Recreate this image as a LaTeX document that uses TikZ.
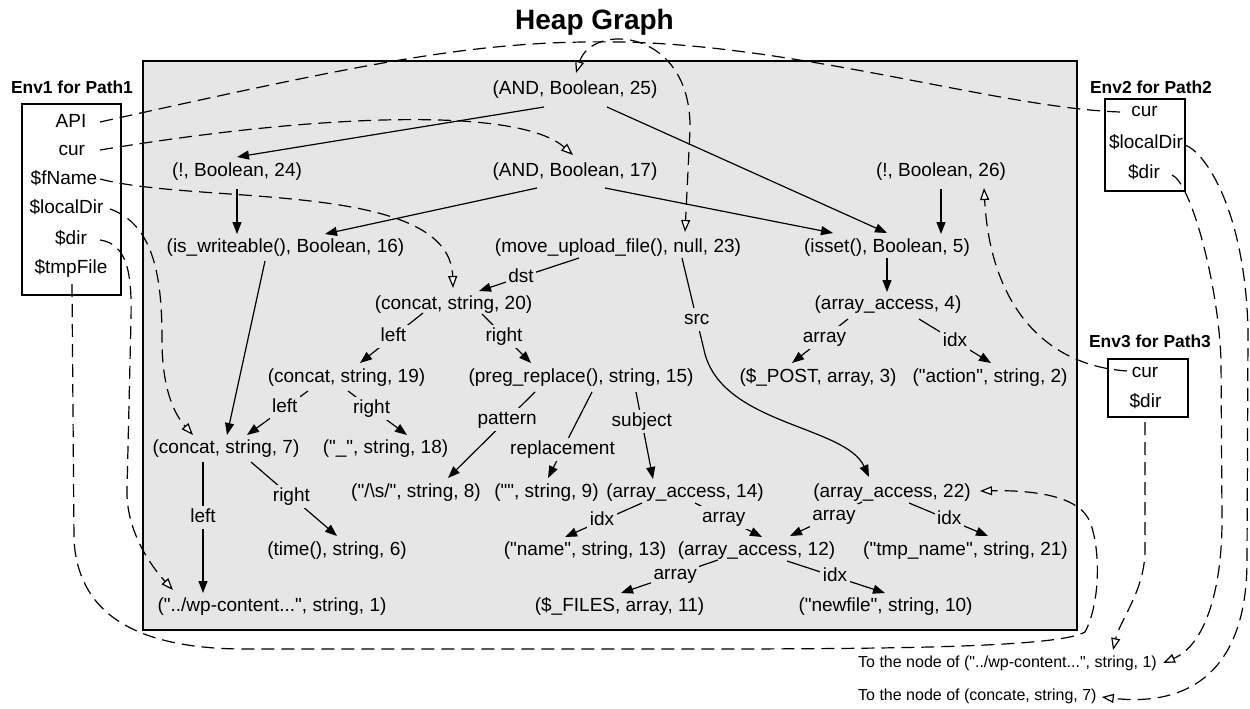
\documentclass[tikz,border=0pt]{standalone}
\usepackage{fontspec}
\setmainfont{Liberation Sans}[Ligatures=TeXOff]
\usetikzlibrary{arrows.meta,calc}
\definecolor{heapbg}{RGB}{230,230,230}
\tikzset{
  oarr/.tip={Triangle[length=12pt,width=9pt,fill=white]},
  farr/.tip={Triangle[length=12pt,width=9pt]},
  hn/.style={inner sep=0pt, text height=14pt, text depth=4pt, font=\fontsize{19}{22}\selectfont},
  lab/.style={hn, fill=heapbg, inner sep=2.5pt},
  envtitle/.style={inner sep=0pt, font=\fontsize{17.4}{20}\selectfont\bfseries},
  envbox/.style={draw, line width=1.2pt},
  heapbox/.style={draw, fill=heapbg, line width=1.5pt},
  bottomtext/.style={anchor=west, inner sep=0pt, text height=12pt, text depth=3.5pt, font=\fontsize{16}{19}\selectfont},
  edge/.style={line width=1.2pt, -farr},
  refl/.style={line width=1.2pt, dash pattern=on 13pt off 7pt},
  ref/.style={refl, -oarr}
}
\begin{document}
\begin{tikzpicture}[x=1pt,y=-1pt]
\useasboundingbox (0,0) rectangle (1250,709);

% title
\node[anchor=base, inner sep=0pt, font=\fontsize{28}{34}\selectfont\bfseries] (title) at (594.5,30) {Heap Graph};

% heap area
\draw[heapbox] (143,61) rectangle (1077,630);

% env boxes
\draw[envbox] (22,104) rectangle (121,295);
\draw[envbox] (1105,99) rectangle (1185,191);
\draw[envbox] (1108,359) rectangle (1188,417);
\node[envtitle] (env1t) at (72,87) {Env1 for Path1};
\node[envtitle] (env2t) at (1151,87.5) {Env2 for Path2};
\node[envtitle] (env3t) at (1150,341.7) {Env3 for Path3};

% env items
\node[hn] (e1api) at (71,122.7) {API};
\node[hn] (e1cur) at (71.7,150) {cur};
\node[hn] (e1fname) at (64,179) {\$fName};
\node[hn] (e1ldir) at (66.5,208.3) {\$localDir};
\node[hn] (e1dir) at (71,239) {\$dir};
\node[hn] (e1tmp) at (71,268.3) {\$tmpFile};
\node[hn] (e2cur) at (1144.5,111.7) {cur};
\node[hn] (e2ldir) at (1146,143.3) {\$localDir};
\node[hn] (e2dir) at (1144,173.3) {\$dir};
\node[hn] (e3cur) at (1145,372.3) {cur};
\node[hn] (e3dir) at (1145.5,402.3) {\$dir};

% bottom texts
\node[bottomtext] (t1) at (858,663) {To the node of ("../wp-content...", string, 1)};
\node[bottomtext] (t7) at (858,696) {To the node of (concate, string, 7)};

% heap nodes
\node[hn] (and25) at (575,90) {(AND, Boolean, 25)};
\node[hn] (and17) at (575,171) {(AND, Boolean, 17)};
\node[hn] (not24) at (237,171) {(!, Boolean, 24)};
\node[hn] (not26) at (941,171) {(!, Boolean, 26)};
\node[hn] (isw16) at (285.5,247) {(is\_writeable(), Boolean, 16)};
\node[hn] (mov23) at (618,247) {(move\_upload\_file(), null, 23)};
\node[hn] (isset5) at (887,247) {(isset(), Boolean, 5)};
\node[hn] (concat20) at (453.5,304) {(concat, string, 20)};
\node[hn] (aa4) at (888,304) {(array\_access, 4)};
\node[hn] (concat19) at (346.5,377) {(concat, string, 19)};
\node[hn] (preg15) at (581,377) {(preg\_replace(), string, 15)};
\node[hn] (post3) at (818,377) {(\$\_POST, array, 3)};
\node[hn] (action2) at (990,377) {("action", string, 2)};
\node[hn] (concat7) at (226,448) {(concat, string, 7)};
\node[hn] (us18) at (385.5,448) {("\_", string, 18)};
\node[hn] (s8) at (416,492) {("/\textbackslash s/", string, 8)};
\node[hn] (e9) at (546.5,492) {("", string, 9)};
\node[hn] (aa14) at (685,492) {(array\_access, 14)};
\node[hn] (aa22) at (892,492) {(array\_access, 22)};
\node[hn] (time6) at (337,550) {(time(), string, 6)};
\node[hn] (name13) at (585,550) {("name", string, 13)};
\node[hn] (aa12) at (756.5,550) {(array\_access, 12)};
\node[hn] (tmp21) at (965.5,550) {("tmp\_name", string, 21)};
\node[hn] (wp1) at (272,606) {("../wp-content...", string, 1)};
\node[hn] (files11) at (619.5,606) {(\$\_FILES, array, 11)};
\node[hn] (newfile10) at (885.5,606) {("newfile", string, 10)};

% solid edges
\draw[edge] ($(and25)+(-31,17)$) -- ($(not24)+(0,-14)$);
\draw[edge] ($(and25)+(32,17)$) -- ($(isset5)+(0,-14)$);
\draw[edge] ($(and17)+(-38,17)$) -- ($(isw16)+(39.5,-13)$);
\draw[edge] ($(and17)+(30,17)$) -- ($(isset5)+(-54,-14)$);
\draw[edge] ($(not24)+(0,18)$) -- ($(isw16)+(-48.5,-13)$);
\draw[edge] ($(not26)+(0,18)$) -- ($(isset5)+(54,-13)$);
\draw[edge] ($(isset5)+(0,11)$) -- ($(aa4)+(-1,-12)$);
\draw[edge] ($(isw16)+(-20.5,14)$) -- ($(concat7)+(1,-13)$);
\draw[edge] ($(mov23)+(-39,11)$) -- node[lab,pos=0.58]{dst} ($(concat20)+(25.5,-13)$);
\draw[edge] ($(mov23)+(64,11)$) -- node[lab,pos=0.67]{src} (704,350) .. controls (720,425) and (845,425) .. ($(aa22)+(-23,-15)$);
\draw[edge] ($(concat20)+(-30.5,9)$) -- node[lab,pos=0.47]{left} ($(concat19)+(13.5,-14)$);
\draw[edge] ($(concat20)+(28.5,10)$) -- node[lab,pos=0.45]{right} ($(preg15)+(-50,-14)$);
\draw[edge] ($(concat19)+(-38.5,14)$) -- node[lab,pos=0.38]{left} ($(concat7)+(21,-13)$);
\draw[edge] ($(concat19)+(1.5,14)$) -- node[lab,pos=0.4]{right} ($(us18)+(21.5,-13)$);
\draw[edge] ($(concat7)+(-23,14)$) -- node[lab,pos=0.42]{left} ($(wp1)+(-69,-13)$);
\draw[edge] ($(concat7)+(25,14)$) -- node[lab,pos=0.47]{right} ($(time6)+(0,-14)$);
\draw[edge] ($(preg15)+(-46,15)$) -- node[lab,pos=0.32]{pattern} ($(s8)+(32,-14)$);
\draw[edge] ($(preg15)+(11,15)$) -- node[lab,pos=0.67]{replacement} ($(e9)+(1.5,-14)$);
\draw[edge] ($(preg15)+(55,15)$) -- node[lab,pos=0.34]{subject} ($(aa14)+(-32,-13)$);
\draw[edge] ($(aa4)+(-40,15)$) -- node[lab,pos=0.42]{array} ($(post3)+(-26,-14)$);
\draw[edge] ($(aa4)+(31,15)$) -- node[lab,pos=0.5]{idx} ($(action2)+(1,-14)$);
\draw[edge] ($(aa14)+(-43,11)$) -- node[lab,pos=0.52]{idx} ($(name13)+(-20,-13)$);
\draw[edge] ($(aa14)+(10,11)$) -- node[lab,pos=0.43]{array} ($(aa12)+(5.5,-13)$);
\draw[edge] ($(aa22)+(-30,10)$) -- node[lab,pos=0.39]{array} ($(aa12)+(33.5,-14)$);
\draw[edge] ($(aa22)+(17,11)$) -- node[lab,pos=0.51]{idx} ($(tmp21)+(22.5,-14)$);
\draw[edge] ($(aa12)+(-38.5,10)$) -- node[lab,pos=0.44]{array} ($(files11)+(1.5,-13)$);
\draw[edge] ($(aa12)+(30.5,11)$) -- node[lab,pos=0.49]{idx} ($(newfile10)+(-0.5,-13)$);

% dashed reference edges
\draw[refl] ($(e1api)+(29,-0.7)$) .. controls (380,60) and (480,40) .. (620,42) .. controls (800,45) and (1000,108) .. ($(e2cur)+(-24.5,0.3)$);
\draw[refl, oarr-oarr] ($(and25)+(1,-17)$) .. controls (592,22) and (692,28) .. (690,130) -- ($(mov23)+(67,-15)$);
\draw[ref] ($(e1cur)+(28.3,0)$) .. controls (330,112) and (520,108) .. ($(and17)+(-2,-16)$);
\draw[ref] ($(e1fname)+(36,0)$) .. controls (200,205) and (450,180) .. ($(concat20)+(-0.5,-16)$);
\draw[ref] ($(e1ldir)+(43.5,0.7)$) .. controls (155,225) and (162,280) .. (162,340) .. controls (162,390) and (175,415) .. ($(concat7)+(-33,-13)$);
\draw[ref] ($(e1dir)+(29,1)$) .. controls (128,244) and (132,275) .. (131,320) -- (127,490) .. controls (126,530) and (150,565) .. ($(wp1)+(-99,-16)$);
\draw[ref] ($(e1tmp)+(1,15.7)$) -- (74,540) .. controls (78,610) and (130,650) .. (250,649) -- (700,649) .. controls (900,649) and (1060,647) .. (1085,632) .. controls (1102,600) and (1100,540) .. (1088,518) .. controls (1075,495) and (1030,490) .. ($(aa22)+(88,-1)$);
\draw[ref] ($(e2ldir)+(39,1.7)$) .. controls (1205,152) and (1245,210) .. (1248,330) -- (1247,560) .. controls (1247,680) and (1180,706) .. ($(t7.east)+(5,1)$);
\draw[ref] ($(e2dir)+(28,1.7)$) .. controls (1190,182) and (1218,280) .. (1221,360) -- (1222,520) .. controls (1222,590) and (1205,645) .. ($(t1.east)+(6,0)$);
\draw[ref] ($(e3cur)+(-18,-1.3)$) .. controls (1040,365) and (990,300) .. ($(not26)+(43,17)$);
\draw[ref] ($(e3dir)+(-0.5,19.7)$) -- (1145,550) .. controls (1145,590) and (1120,620) .. ($(t1.north east)+(-44,-5)$);
\end{tikzpicture}
\end{document}
